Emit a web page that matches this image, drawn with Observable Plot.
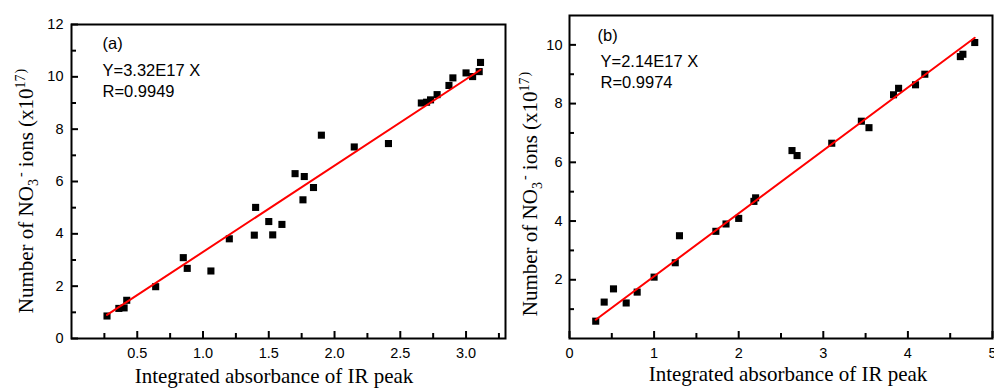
<!DOCTYPE html>
<html>
<head>
<meta charset="utf-8">
<script src="https://cdn.jsdelivr.net/npm/d3@7"></script>
<script src="https://cdn.jsdelivr.net/npm/@observablehq/plot@0.6"></script>
<style>
  html, body { margin: 0; padding: 0; background: white; }
  #wrap { position: relative; width: 994px; height: 388px; overflow: hidden; background: white; }
  #wrap svg { position: absolute; top: 0; }
</style>
</head>
<body>
<div id="wrap"></div>
<script>
// ---- Panel (a) data ----
const aX = [0.27,0.36,0.40,0.42,0.64,0.85,0.88,1.06,1.20,1.39,1.40,1.50,1.53,1.60,1.70,1.77,1.76,1.84,1.90,2.15,2.41,2.66,2.70,2.73,2.78,2.87,2.90,3.00,3.05,3.10,3.11];
const aY = [0.86,1.15,1.17,1.46,1.98,3.09,2.68,2.58,3.81,3.95,5.01,4.47,3.96,4.36,6.30,6.19,5.30,5.77,7.77,7.32,7.45,9.00,9.03,9.12,9.32,9.67,9.96,10.15,10.01,10.20,10.55];
const fitAX = [0.27, 3.11];
const fitAY = [0.90, 10.27];
const annotA = ["(a)", "Y=3.32E17 X", "R=0.9949"];
const xMajorA = [0.5, 1.0, 1.5, 2.0, 2.5, 3.0];
const xMinorA = [0.25, 0.75, 1.25, 1.75, 2.25, 2.75, 3.25];
const yMajorA = [0, 2, 4, 6, 8, 10, 12];
const yMinorA = [1, 3, 5, 7, 9, 11];

// ---- Panel (b) data ----
const bX = [0.31,0.41,0.52,0.67,0.80,1.00,1.25,1.30,1.73,1.85,2.00,2.18,2.20,2.63,2.69,3.10,3.45,3.54,3.83,3.89,4.09,4.20,4.62,4.65,4.79];
const bY = [0.59,1.24,1.69,1.21,1.58,2.09,2.58,3.50,3.65,3.90,4.09,4.67,4.79,6.40,6.23,6.65,7.40,7.18,8.30,8.52,8.64,9.00,9.60,9.68,10.08];
const fitBX = [0.31, 4.79];
const fitBY = [0.64, 10.24];
const annotB = ["(b)", "Y=2.14E17 X", "R=0.9974"];
const xMajorB = [0, 1, 2, 3, 4, 5];
const xMinorB = [0.5, 1.5, 2.5, 3.5, 4.5];
const yMajorB = [2, 4, 6, 8, 10];
const yMinorB = [1, 3, 5, 7, 9];

const xTitle = "Integrated absorbance of IR peak";

function panel(cfg) {
  const innerW = cfg.width - cfg.ml - cfg.mr;
  const innerH = cfg.height - cfg.mt - cfg.mb;
  const pts = cfg.xs.map((x, i) => ({x, y: cfg.ys[i]}));
  const fit = cfg.fx.map((x, i) => ({x, y: cfg.fy[i]}));
  const svg = Plot.plot({
    width: cfg.width, height: cfg.height,
    marginLeft: cfg.ml, marginRight: cfg.mr, marginTop: cfg.mt, marginBottom: cfg.mb,
    x: {domain: cfg.xd}, y: {domain: cfg.yd},
    style: {fontFamily: "'Liberation Sans', Arial, sans-serif", fontSize: "14px", background: "transparent", color: "black", overflow: "visible"},
    marks: [
      Plot.tickX(cfg.xMajor, {x: d => d, insetTop: innerH - 7, stroke: "black", strokeWidth: 2}),
      Plot.tickX(cfg.xMinor, {x: d => d, insetTop: innerH - 5, stroke: "black", strokeWidth: 2}),
      Plot.tickY(cfg.yMajor, {y: d => d, insetRight: innerW - 7, stroke: "black", strokeWidth: 2}),
      Plot.tickY(cfg.yMinor, {y: d => d, insetRight: innerW - 5, stroke: "black", strokeWidth: 2}),
      Plot.frame({stroke: "black", strokeWidth: 2}),
      Plot.axisX({ticks: cfg.xMajor, tickSize: 0, tickPadding: 9, tickFormat: cfg.xFmt, label: null, fontSize: 14.5}),
      Plot.axisY({ticks: cfg.yMajor, tickSize: 0, tickPadding: cfg.yPad, tickFormat: d3.format("d"), label: null, fontSize: 14.5}),
      Plot.dot(pts, {x: "x", y: "y", symbol: "square", r: 4, fill: "black", stroke: "none"}),
      Plot.line(fit, {x: "x", y: "y", stroke: "#ff0000", strokeWidth: 2}),
      Plot.text([cfg.annot[0]], {text: d => d, frameAnchor: "top-left", dx: cfg.adx0, dy: cfg.ady[0], textAnchor: "start", lineAnchor: "middle", fontSize: 16.5, fill: "black"}),
      Plot.text([cfg.annot[1]], {text: d => d, frameAnchor: "top-left", dx: cfg.adx1, dy: cfg.ady[1], textAnchor: "start", lineAnchor: "middle", fontSize: 16.5, fill: "black"}),
      Plot.text([cfg.annot[2]], {text: d => d, frameAnchor: "top-left", dx: cfg.adx1, dy: cfg.ady[2], textAnchor: "start", lineAnchor: "middle", fontSize: 16.5, fill: "black"})
    ]
  });
  const s = d3.select(svg);
  s.style("left", cfg.left + "px");
  // y title with subscript / superscript
  const yt = s.append("text")
    .attr("transform", `translate(${cfg.ytx},${cfg.yty}) rotate(-90)`)
    .attr("text-anchor", "middle")
    .attr("fill", "black")
    .style("font-family", "'Liberation Serif', 'Times New Roman', serif")
    .style("font-size", "21px");
  yt.append("tspan").text("Number of NO");
  yt.append("tspan").attr("dy", 5).style("font-size", "14px").text("3");
  yt.append("tspan").attr("dy", -13).attr("dx", 2).style("font-size", "14px").text("-");
  yt.append("tspan").attr("dy", 8).text(" ions (x10");
  yt.append("tspan").attr("dy", -8).style("font-size", "14px").text("17");
  yt.append("tspan").attr("dx", 1).style("font-size", "14px").text(")");
  // x title
  s.append("text")
    .attr("x", cfg.xtx).attr("y", cfg.xty)
    .attr("text-anchor", "middle")
    .attr("fill", "black")
    .style("font-family", "'Liberation Serif', 'Times New Roman', serif")
    .style("font-size", "21px")
    .text(xTitle);
  return svg;
}

const wrap = document.getElementById("wrap");
wrap.appendChild(panel({
  left: 0, width: 510, height: 388, ml: 71, mr: 5, mt: 24, mb: 50,
  xd: [0, 3.3], yd: [0, 12], xs: aX, ys: aY, fx: fitAX, fy: fitAY,
  xMajor: xMajorA, xMinor: xMinorA, yMajor: yMajorA, yMinor: yMinorA,
  xFmt: d3.format(".1f"), yPad: 8,
  annot: annotA, adx0: 31, adx1: 31, ady: [19, 46, 67],
  ytx: 33, yty: 191, xtx: 274, xty: 383
}));
wrap.appendChild(panel({
  left: 490, width: 504, height: 388, ml: 79, mr: 2, mt: 15, mb: 50,
  xd: [0, 5], yd: [0, 11], xs: bX, ys: bY, fx: fitBX, fy: fitBY,
  xMajor: xMajorB, xMinor: xMinorB, yMajor: yMajorB, yMinor: yMinorB,
  xFmt: d3.format("d"), yPad: 7,
  annot: annotB, adx0: 28, adx1: 31, ady: [20, 46, 67],
  ytx: 47, yty: 194, xtx: 298, xty: 381
}));
</script>
</body>
</html>
